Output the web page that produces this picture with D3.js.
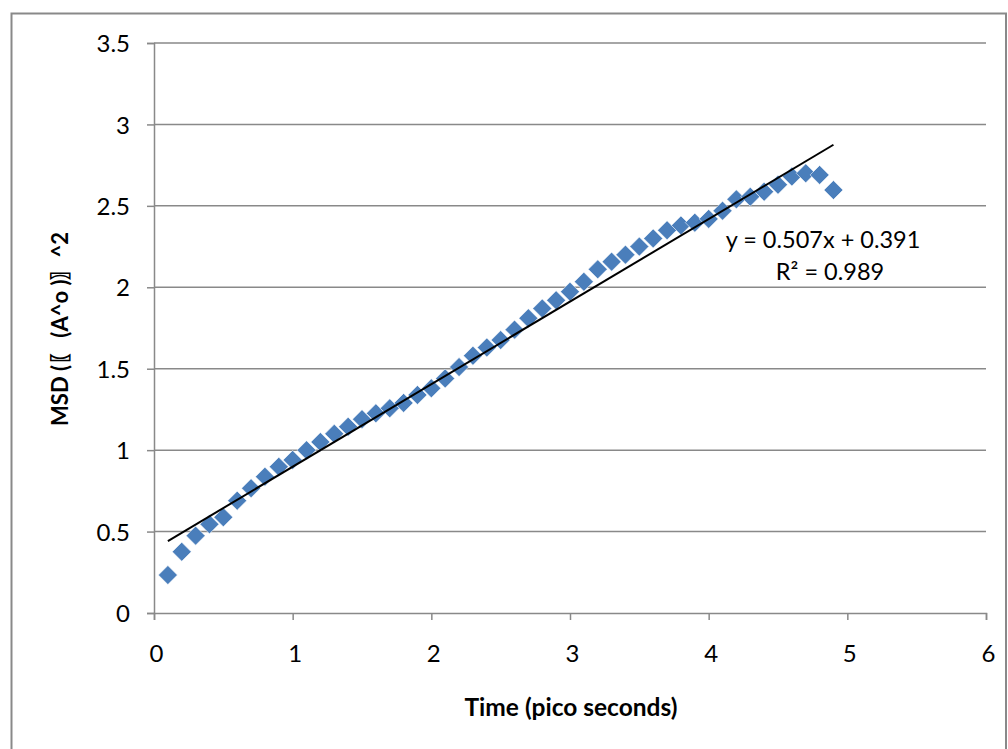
<!DOCTYPE html>
<html>
<head>
<meta charset="utf-8">
<script src="https://cdn.jsdelivr.net/npm/d3@7"></script>
<style>
  html, body { margin: 0; padding: 0; background: #ffffff; }
  svg { display: block; }
  text { font-family: Lato, "Open Sans", sans-serif; fill: #000; }
</style>
</head>
<body>
<svg id="chart" width="1008" height="749"></svg>
<script>
// Mean squared displacement samples, one every 0.1 ps
const timePs = [
  0.1, 0.2, 0.3, 0.4, 0.5, 0.6, 0.7, 0.8, 0.9, 1.0,
  1.1, 1.2, 1.3, 1.4, 1.5, 1.6, 1.7, 1.8, 1.9, 2.0,
  2.1, 2.2, 2.3, 2.4, 2.5, 2.6, 2.7, 2.8, 2.9, 3.0,
  3.1, 3.2, 3.3, 3.4, 3.5, 3.6, 3.7, 3.8, 3.9, 4.0,
  4.1, 4.2, 4.3, 4.4, 4.5, 4.6, 4.7, 4.8, 4.9
];
const msdValues = [
  0.233, 0.376, 0.475, 0.545, 0.588, 0.690, 0.766, 0.837, 0.898, 0.940,
  1.000, 1.050, 1.100, 1.144, 1.190, 1.226, 1.257, 1.290, 1.339, 1.380,
  1.440, 1.510, 1.580, 1.630, 1.676, 1.740, 1.810, 1.870, 1.920, 1.973,
  2.034, 2.110, 2.157, 2.200, 2.250, 2.300, 2.350, 2.380, 2.397, 2.420,
  2.470, 2.540, 2.556, 2.587, 2.630, 2.680, 2.700, 2.690, 2.597
];
const xTicks = [0, 1, 2, 3, 4, 5, 6];
const yTicks = [0, 0.5, 1, 1.5, 2, 2.5, 3, 3.5];
// Linear trendline
const slope = 0.507;
const intercept = 0.391;
const rSquared = 0.989;

const svg = d3.select("#chart");
const plot = { left: 154, right: 986, top: 43, bottom: 613 };
const gridColor = "#898989";

// Outer chart frame
svg.append("rect")
  .attr("x", 11.5).attr("y", 13.5)
  .attr("width", 1008 - 11.5 - 2).attr("height", 760)
  .attr("fill", "#fff").attr("stroke", gridColor).attr("stroke-width", 2);

const x = d3.scaleLinear().domain([0, 6]).range([plot.left, plot.right]);
const y = d3.scaleLinear().domain([0, 3.5]).range([plot.bottom, plot.top]);

// Horizontal gridlines
svg.append("g")
  .selectAll("line")
  .data(yTicks.filter(v => v > 0))
  .join("line")
  .attr("x1", plot.left).attr("x2", plot.right)
  .attr("y1", d => y(d)).attr("y2", d => y(d))
  .attr("stroke", gridColor).attr("stroke-width", 1.5);

// Y axis
const yAxis = svg.append("g")
  .attr("transform", `translate(${plot.left},0)`)
  .call(d3.axisLeft(y).tickValues(yTicks).tickSizeOuter(0).tickSize(7).tickPadding(17)
    .tickFormat(d3.format("")));
// X axis
const xAxis = svg.append("g")
  .attr("transform", `translate(0,${plot.bottom})`)
  .call(d3.axisBottom(x).tickValues(xTicks).tickSizeOuter(0).tickSize(7).tickPadding(25)
    .tickFormat(d3.format("")));

[yAxis, xAxis].forEach(g => {
  g.select(".domain").attr("stroke", gridColor).attr("stroke-width", 1.5);
  g.selectAll(".tick line").attr("stroke", gridColor).attr("stroke-width", 1.5);
  g.selectAll(".tick text").attr("font-size", 24).attr("font-family", "Lato, sans-serif").attr("fill", "#000");
});
yAxis.selectAll(".tick text").attr("dy", "0.36em");
xAxis.selectAll(".tick text").attr("dx", "0.08em");

// Data markers (diamonds)
const r = 9.5;
const diamond = `M0,${-r}L${r},0L0,${r}L${-r},0Z`;
svg.append("g")
  .selectAll("path")
  .data(timePs.map((t, i) => [t, msdValues[i]]))
  .join("path")
  .attr("d", diamond)
  .attr("transform", d => `translate(${x(d[0])},${y(d[1])})`)
  .attr("fill", "#4a7ebb")
  .attr("stroke", "rgba(255,255,255,0.7)")
  .attr("stroke-width", 0.8);

// Trendline across the sampled range
const tMin = d3.min(timePs), tMax = d3.max(timePs);
svg.append("line")
  .attr("x1", x(tMin)).attr("y1", y(slope * tMin + intercept))
  .attr("x2", x(tMax)).attr("y2", y(slope * tMax + intercept))
  .attr("stroke", "#000").attr("stroke-width", 2);

// Trendline equation
svg.append("text")
  .attr("x", 823).attr("y", 248)
  .attr("text-anchor", "middle").attr("font-size", 23.5)
  .text(`y = ${slope.toFixed(3)}x + ${intercept.toFixed(3)}`);
svg.append("text")
  .attr("x", 830).attr("y", 280)
  .attr("text-anchor", "middle").attr("font-size", 23.5)
  .text(`R² = ${rSquared.toFixed(3)}`);

// Axis titles
svg.append("text")
  .attr("x", 571).attr("y", 716)
  .attr("text-anchor", "middle").attr("font-size", 24.5).attr("font-weight", "bold")
  .text("Time (pico seconds)");
svg.append("text")
  .attr("transform", "translate(68,329) rotate(-90)")
  .attr("text-anchor", "middle").attr("font-size", 22).attr("font-weight", "bold")
  .text("MSD (〖 (A^o )〗^2");
</script>
</body>
</html>
